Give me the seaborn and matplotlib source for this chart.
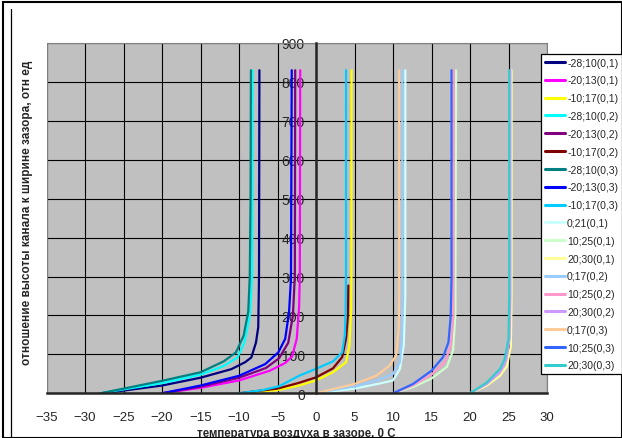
import matplotlib
matplotlib.use("Agg")
import matplotlib.pyplot as plt
import seaborn as sns
import pandas as pd
from matplotlib.patches import Rectangle
from matplotlib.lines import Line2D

# ---- series names and colours ----
series_names = ["-28;10(0,1)", "-20;13(0,1)", "-10;17(0,1)",
                "-28;10(0,2)", "-20;13(0,2)", "-10;17(0,2)",
                "-28;10(0,3)", "-20;13(0,3)", "-10;17(0,3)",
                "0;21(0,1)", "10;25(0,1)", "20;30(0,1)",
                "0;17(0,2)", "10;25(0,2)", "20;30(0,2)",
                "0;17(0,3)", "10;25(0,3)", "20;30(0,3)"]
series_colors = ["#000080", "#FF00FF", "#FFFF00",
                 "#00FFFF", "#800080", "#800000",
                 "#008080", "#0000FF", "#00CCFF",
                 "#CCFFFF", "#CCFFCC", "#FFFF99",
                 "#99CCFF", "#FF99CC", "#CC99FF",
                 "#FFCC99", "#3366FF", "#33CCCC"]

# ---- data (x = temperature, y = ratio) ----
x_m28_01 = [-28, -25, -20, -15, -11, -9.2, -8.4, -7.8, -7.5, -7.4, -7.35]
y_m28_01 = [0, 7, 20, 40, 62, 80, 92, 130, 170, 300, 830]
x_m20_01 = [-20, -15, -10, -6, -4, -3.1, -2.5, -2.2, -2.1, -2.05]
y_m20_01 = [0, 14, 33, 58, 78, 95, 140, 220, 300, 830]
x_m10_01 = [-10, -5, -2.2, 0, 2.2, 3.9, 4.35, 4.55, 4.6, 4.62]
y_m10_01 = [0, 8, 20, 33, 54, 80, 123, 210, 300, 830]
x_m28_02 = [-28, -25, -20, -15, -12, -10.2, -9.3, -8.6, -8.3, -8.25]
y_m28_02 = [0, 10, 26, 48, 70, 92, 130, 200, 300, 830]
x_m20_02 = [-20, -15, -10, -6.5, -4.8, -3.6, -3.0, -2.75, -2.7]
y_m20_02 = [0, 17, 40, 65, 90, 130, 200, 300, 830]
x_m10_02 = [-10, -5, -2.2, 0, 2.2, 3.4, 3.9, 4.15, 4.2]
y_m10_02 = [0, 12, 27, 41, 64, 93, 140, 200, 277]
x_m28_03 = [-28, -25, -20, -15, -12, -10.4, -9.4, -8.8, -8.6, -8.5, -8.45]
y_m28_03 = [0, 12, 32, 54, 82, 105, 148, 210, 300, 500, 830]
x_m20_03 = [-20, -15, -10, -6.6, -4.9, -4.0, -3.5, -3.25, -3.15]
y_m20_03 = [0, 20, 45, 75, 105, 140, 209, 295, 830]
x_m10_03 = [-10, -7, -4.8, -2.2, 0, 2.2, 3.4, 3.75, 3.85, 3.9, 3.9]
y_m10_03 = [0, 8, 18, 45, 63, 82, 105, 150, 210, 300, 830]
x_0_21_01 = [0, 5, 8, 10, 10.9, 11.4, 11.6, 11.6]
y_0_21_01 = [0, 12, 24, 33, 63, 123, 250, 830]
x_10_25_01 = [10, 12.6, 15, 17, 17.8, 18.1, 18.2]
y_10_25_01 = [0, 16, 38, 68, 110, 200, 830]
x_20_30_01 = [20, 22.2, 23.9, 24.8, 25.3, 25.4, 25.4]
y_20_30_01 = [0, 20, 45, 70, 120, 250, 830]
x_0_17_02 = [0, 5, 8, 10, 10.9, 11.15, 11.2, 11.2]
y_0_17_02 = [0, 18, 33, 50, 80, 140, 250, 830]
x_10_25_02 = [10, 12.6, 15, 16.7, 17.5, 17.85, 17.9]
y_10_25_02 = [0, 20, 48, 80, 120, 200, 830]
x_20_30_02 = [20, 22.2, 23.9, 24.7, 25.15, 25.25, 25.25]
y_20_30_02 = [0, 24, 54, 85, 140, 250, 830]
x_0_17_03 = [0, 5, 7.8, 9.56, 10.4, 10.75, 10.8, 10.8]
y_0_17_03 = [0, 24, 45, 71, 97, 166, 252, 830]
x_10_25_03 = [10, 12.6, 15, 16.5, 17.2, 17.5, 17.6, 17.6]
y_10_25_03 = [0, 24, 58, 93, 131, 200, 300, 830]
x_20_30_03 = [20, 22.2, 23.9, 24.5, 25.0, 25.1, 25.1]
y_20_30_03 = [0, 28, 63, 88, 140, 252, 830]

series_x = [x_m28_01, x_m20_01, x_m10_01, x_m28_02, x_m20_02, x_m10_02,
            x_m28_03, x_m20_03, x_m10_03, x_0_21_01, x_10_25_01, x_20_30_01,
            x_0_17_02, x_10_25_02, x_20_30_02, x_0_17_03, x_10_25_03, x_20_30_03]
series_y = [y_m28_01, y_m20_01, y_m10_01, y_m28_02, y_m20_02, y_m10_02,
            y_m28_03, y_m20_03, y_m10_03, y_0_21_01, y_10_25_01, y_20_30_01,
            y_0_17_02, y_10_25_02, y_20_30_02, y_0_17_03, y_10_25_03, y_20_30_03]

x_ticks = list(range(-35, 31, 5))
y_ticks = list(range(0, 901, 100))

rows = []
for name, xs, ys in zip(series_names, series_x, series_y):
    for i, (xv, yv) in enumerate(zip(xs, ys)):
        rows.append({"series": name, "x": xv, "y": yv, "i": i})
df = pd.DataFrame(rows)

sns.set_style("white")
plt.rcParams["font.family"] = ["Liberation Sans", "DejaVu Sans"]

W, H = 622, 439
fig = plt.figure(figsize=(W / 100, H / 100), dpi=100)
fig.patch.set_facecolor("white")
ax_l, ax_r, ax_t, ax_b = 46.5, 547, 44, 394.3
ax = fig.add_axes([ax_l / W, 1 - ax_b / H, (ax_r - ax_l) / W, (ax_b - ax_t) / H])
ax.set_facecolor("#C0C0C0")

sns.lineplot(data=df, x="x", y="y", hue="series", hue_order=series_names,
             palette=series_colors, sort=False, estimator=None,
             linewidth=1.6, ax=ax, legend=True)

ax.set_xlim(-35, 30)
ax.set_ylim(0, 900)
ax.set_xticks(x_ticks)
ax.set_yticks(y_ticks)
ax.set_axisbelow(True)
ax.grid(True, color="black", linewidth=0.8)

for s in ["top", "right"]:
    ax.spines[s].set_color("#808080")
    ax.spines[s].set_linewidth(0.8)
ax.spines["left"].set_position(("data", 0))
ax.spines["left"].set_linewidth(1.8)
ax.spines["left"].set_zorder(5)
ax.spines["bottom"].set_linewidth(1.8)
ax.spines["bottom"].set_zorder(5)
# left border of the plot area
ax.add_patch(Rectangle((0, 0), 1, 1, transform=ax.transAxes, fill=False,
                       edgecolor="#808080", linewidth=0.8, zorder=0.6))

ax.tick_params(axis="x", direction="out", length=4, width=1.5, labelsize=9.5, pad=9)
ax.tick_params(axis="y", direction="out", length=3, width=1.5, labelsize=10, pad=5)

ax.set_xlabel("температура воздуха в зазоре, 0 С", fontsize=8.3, fontweight="bold")
ax.xaxis.set_label_coords(0.5, -0.095)
ax.set_ylabel("")
fig.text(27 / W, 1 - 213 / H, "отношение высоты канала к ширине зазора, отн ед",
         rotation=90, ha="center", va="center", fontsize=8.5, fontweight="bold")

ax.get_legend().remove()
handles = [Line2D([0], [0], color=c, lw=2.2) for c in series_colors]
leg = fig.legend(handles, series_names, loc="upper left",
                 bbox_to_anchor=(541 / W, 1 - 55 / H), frameon=True,
                 fontsize=7.5, handlelength=2.0, handletextpad=0.15,
                 labelspacing=0.75, borderpad=0.35, borderaxespad=0,
                 fancybox=False, framealpha=1, edgecolor="black")
leg.get_frame().set_linewidth(0.9)

# outer frame
fig.add_artist(Rectangle((3 / W, 0), (W - 3) / W, 1 - 3 / H, transform=fig.transFigure,
                         fill=False, edgecolor="black", linewidth=1.5))
fig.add_artist(Line2D([10.5 / W, 10.5 / W], [0, 1 - 10 / H], transform=fig.transFigure,
                      color="black", linewidth=0.9))

fig.savefig("out.png", dpi=100)
